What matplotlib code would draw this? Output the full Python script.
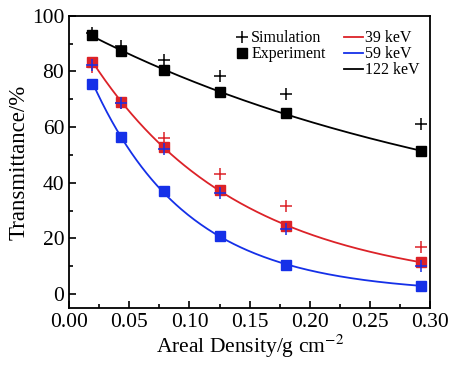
# transmittance vs areal density

import matplotlib.pyplot as plt
import numpy as np
from matplotlib.lines import Line2D

plt.rcParams['font.family'] = ['Liberation Serif', 'DejaVu Serif']
plt.rcParams['mathtext.fontset'] = 'stix'

density = [0.019, 0.043, 0.079, 0.125, 0.180, 0.292]

exp_39 = [83.5, 69.0, 53.0, 37.5, 24.5, 11.5]
exp_59 = [75.5, 56.5, 37.0, 21.0, 10.5, 3.0]
exp_122 = [93.0, 87.5, 80.5, 72.5, 65.0, 51.5]

sim_39 = [81.5, 68.5, 56.0, 43.0, 31.5, 17.0]
sim_59 = [82.5, 68.5, 52.0, 36.5, 23.5, 10.0]
sim_122 = [94.0, 89.0, 84.0, 78.5, 72.0, 61.0]

labels = ['39 keV', '59 keV', '122 keV']
colors = ['#dc2228', '#1530e8', 'black']

fig = plt.figure(figsize=(4.49, 3.68), dpi=100)
ax = fig.add_axes([0.154, 0.163, 0.804, 0.794])

x = np.array(density)
xs = np.linspace(x[0], x[-1], 200)

for e, s, c in zip([exp_39, exp_59, exp_122], [sim_39, sim_59, sim_122], colors):
    # smooth fitted curve through the experiment points
    p = np.polyfit(x, np.log(e), 2)
    ax.plot(xs, np.exp(np.polyval(p, xs)), color=c, lw=1.3)
    ax.plot(x, e, 's', color=c, ms=6.5)
    ax.plot(x, s, '+', color=c, ms=9, mew=1.1)

ax.set_xlim(0, 0.30)
ax.set_ylim(-5, 100)
ax.set_xticks(np.arange(0, 0.301, 0.05))
ax.set_xticks(np.arange(0.025, 0.3, 0.05), minor=True)
ax.set_yticks(np.arange(0, 101, 20))
ax.set_yticks(np.arange(10, 100, 20), minor=True)
ax.set_xticklabels(['%.2f' % t for t in np.arange(0, 0.301, 0.05)])
ax.tick_params(which='both', direction='in', labelsize=15.5)
ax.tick_params(which='major', length=5, width=1.2)
ax.tick_params(which='minor', length=3, width=1.2)
for sp in ax.spines.values():
    sp.set_linewidth(1.3)

ax.set_xlabel('Areal Density/g cm$^{\\mathrm{-2}}$', fontsize=15.5, labelpad=1)
ax.set_ylabel('Transmittance/%', fontsize=16.5, labelpad=2)

h1 = [Line2D([], [], ls='none', marker='+', color='black', ms=9, mew=1.1),
      Line2D([], [], ls='none', marker='s', color='black', ms=7)]
leg1 = ax.legend(h1, ['Simulation', 'Experiment'], loc='upper left',
                 bbox_to_anchor=(0.42, 1.0), frameon=False, fontsize=11.5,
                 handlelength=0.8, handletextpad=0.2, labelspacing=0.0)
ax.add_artist(leg1)

h2 = [Line2D([], [], color=c, lw=1.3) for c in colors]
ax.legend(h2, labels, loc='upper right', bbox_to_anchor=(1.01, 1.0),
          frameon=False, fontsize=11.5, handlelength=1.2, handletextpad=0.1,
          labelspacing=0.0)

fig.savefig('out.png', dpi=100)
